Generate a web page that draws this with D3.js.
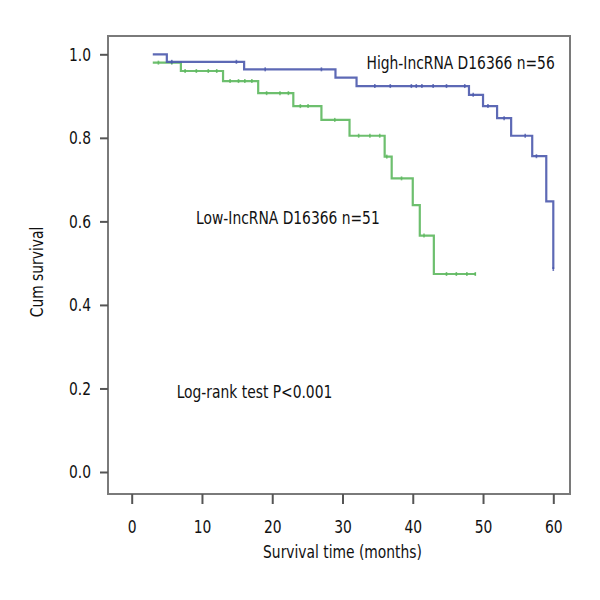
<!DOCTYPE html>
<html>
<head>
<meta charset="utf-8">
<script src="https://cdn.jsdelivr.net/npm/d3@7"></script>
<style>
  html, body { margin: 0; padding: 0; background: #fff; }
  svg text { font-family: "Liberation Sans Narrow", "DejaVu Sans Condensed", "Noto Sans", sans-serif; fill: #111; }
</style>
</head>
<body>
<svg id="chart" width="600" height="600"></svg>
<script>
// ---- Data ----
const xTicks = [0, 10, 20, 30, 40, 50, 60];
const yTicks = [0.0, 0.2, 0.4, 0.6, 0.8, 1.0];

// High-IncRNA D16366 (n=56): step start times and survival levels
const highTimes = [3, 5, 16, 29, 32, 48, 50, 52, 54, 57, 59, 60];
const highSurv  = [1.0, 0.982, 0.964, 0.944, 0.924, 0.903, 0.876, 0.847, 0.805, 0.756, 0.648, 0.486];
const highEnd = 60;
const highCensor = [5.7, 14.9, 19, 27, 34.6, 36.8, 39.8, 40.5, 41.3, 42.9, 44.8, 47.4, 48.6, 50.7, 53, 56, 57.6, 60];

// Low-IncRNA D16366 (n=51)
const lowTimes = [3, 7, 13, 18, 23, 27, 31, 36, 37, 40, 41, 43];
const lowSurv  = [0.980, 0.960, 0.936, 0.907, 0.876, 0.843, 0.805, 0.755, 0.703, 0.639, 0.566, 0.474];
const lowEnd = 49;
const lowCensor = [3.8, 5.7, 7.6, 9.2, 10.9, 12.1, 14, 15.2, 16.1, 17.1, 19.2, 21.1, 22.3, 24, 25.1, 28.9, 32.3, 33.9, 35.3, 36.3, 38.4, 41.6, 44.8, 46.2, 47.7, 48.9];

const labels = {
  high: "High-IncRNA D16366 n=56",
  low: "Low-IncRNA D16366 n=51",
  test: "Log-rank test P<0.001",
  xTitle: "Survival time (months)",
  yTitle: "Cum survival"
};

// ---- Layout ----
const frame = { left: 108, right: 570, top: 36, bottom: 494 };
const svg = d3.select("#chart");

const x = d3.scaleLinear().domain([0, 60]).range([131.7, 553.3]);
const y = d3.scaleLinear().domain([0, 1]).range([472, 54.3]);

const blue = "#4b59ad";
const green = "#5db85e";

// frame
svg.append("rect")
  .attr("x", frame.left).attr("y", frame.top)
  .attr("width", frame.right - frame.left).attr("height", frame.bottom - frame.top)
  .attr("fill", "none").attr("stroke", "#7a7a7a").attr("stroke-width", 2);

// axes
const fmt = d3.format(".1f");
const yAxis = svg.append("g")
  .attr("transform", `translate(${frame.left},0)`)
  .call(d3.axisLeft(y).tickValues(yTicks).tickFormat(fmt).tickSize(8).tickPadding(9));
const xAxis = svg.append("g")
  .attr("transform", `translate(0,${frame.bottom})`)
  .call(d3.axisBottom(x).tickValues(xTicks).tickFormat(d3.format("d")).tickSize(10).tickPadding(16));
[xAxis, yAxis].forEach(g => {
  g.select(".domain").remove();
  g.selectAll(".tick line").attr("stroke", "#555").attr("stroke-width", 2);
  g.selectAll(".tick text").style("font-size", "18px").attr("fill", "#111");
});

// curves
function stepData(times, surv, end) {
  const pts = times.map((t, i) => [t, surv[i]]);
  pts.push([end, surv[surv.length - 1]]);
  return pts;
}
function survAt(times, surv, t) {
  let s = surv[0];
  for (let i = 0; i < times.length; i++) if (times[i] <= t) s = surv[i];
  return s;
}
const line = d3.line().x(d => x(d[0])).y(d => y(d[1])).curve(d3.curveStepAfter);

function drawCurve(times, surv, end, censor, color) {
  svg.append("path")
    .datum(stepData(times, surv, end))
    .attr("d", line)
    .attr("fill", "none").attr("stroke", color).attr("stroke-width", 2.2)
    .attr("stroke-opacity", 0.9);
  svg.append("g").selectAll("line")
    .data(censor)
    .join("line")
    .attr("x1", d => x(d)).attr("x2", d => x(d))
    .attr("y1", d => y(survAt(times, surv, d)) - 2)
    .attr("y2", d => y(survAt(times, surv, d)) + 2)
    .attr("stroke", color).attr("stroke-width", 1.6).attr("stroke-opacity", 0.8);
}
drawCurve(lowTimes, lowSurv, lowEnd, lowCensor, green);
drawCurve(highTimes, highSurv, highEnd, highCensor, blue);

// annotations
svg.append("text").attr("x", x(60.2)).attr("y", y(0.965)).attr("text-anchor", "end")
  .style("font-size", "18px").text(labels.high);
svg.append("text").attr("x", x(35.3)).attr("y", y(0.593)).attr("text-anchor", "end")
  .style("font-size", "18px").text(labels.low);
svg.append("text").attr("x", x(6.4)).attr("y", y(0.177))
  .style("font-size", "18px").text(labels.test);

// titles
svg.append("text").attr("x", x(30)).attr("y", 558).attr("text-anchor", "middle")
  .style("font-size", "18px").text(labels.xTitle);
svg.append("text").attr("transform", "translate(43,272) rotate(-90)").attr("text-anchor", "middle")
  .style("font-size", "18px").text(labels.yTitle);

// condense all text to mimic the narrow typeface of the reference
svg.selectAll("text").each(function () {
  const L = this.getComputedTextLength();
  d3.select(this).attr("textLength", L * 0.855).attr("lengthAdjust", "spacingAndGlyphs");
});
</script>
</body>
</html>
